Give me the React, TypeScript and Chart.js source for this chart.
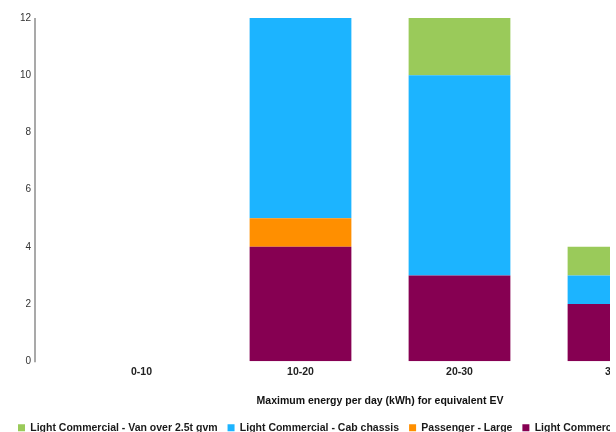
import React, { useEffect, useRef } from "react";
import { Chart, registerables } from "chart.js";

Chart.register(...registerables);

const categories = ["0-10", "10-20", "20-30", "30-40"];
const nameUte = "Light Commercial - Ute";
const namePassengerLarge = "Passenger - Large";
const nameCabChassis = "Light Commercial - Cab chassis";
const nameVanOver = "Light Commercial - Van over 2.5t gvm";
const uteValues = [0, 4, 3, 2];
const passengerLargeValues = [0, 1, 0, 0];
const cabChassisValues = [0, 7, 7, 1];
const vanOverValues = [0, 0, 2, 1];
const yMax = 12;
const yStep = 2;
const xTitle = "Maximum energy per day (kWh) for equivalent EV";

const FONT = "'Liberation Sans', Arial, Helvetica, sans-serif";
const CANVAS_W = 760;
const CANVAS_H = 443;
const VISIBLE_W = 610;

const yLinePlugin = {
  id: "yLine",
  afterDraw(chart: any) {
    const { ctx, chartArea } = chart;
    const x = chart.scales.y.right - 27;
    ctx.save();
    ctx.strokeStyle = "#a9a9a9";
    ctx.lineWidth = 2;
    ctx.beginPath();
    ctx.moveTo(x, chartArea.top);
    ctx.lineTo(x, chartArea.bottom + 1);
    ctx.stroke();
    ctx.restore();
  },
};

export default function App() {
  const ref = useRef<HTMLCanvasElement | null>(null);
  useEffect(() => {
    if (!ref.current) return;
    const chart = new Chart(ref.current, {
      type: "bar",
      data: {
        labels: categories,
        datasets: [
          { label: nameUte, data: uteValues, backgroundColor: "#860052" },
          { label: namePassengerLarge, data: passengerLargeValues, backgroundColor: "#ff8f00" },
          { label: nameCabChassis, data: cabChassisValues, backgroundColor: "#1cb4ff" },
          { label: nameVanOver, data: vanOverValues, backgroundColor: "#9aca5a" },
        ],
      },
      plugins: [yLinePlugin],
      options: {
        animation: false,
        responsive: false,
        maintainAspectRatio: false,
        devicePixelRatio: 1,
        layout: { padding: { top: 18, left: 8, right: 0, bottom: 0 } },
        datasets: { bar: { categoryPercentage: 0.8, barPercentage: 0.8 } } as any,
        plugins: {
          tooltip: { enabled: false },
          legend: {
            position: "bottom",
            align: "start",
            reverse: true,
            labels: {
              boxWidth: 7,
              boxHeight: 7,
              padding: 10,
              color: "#1a1a1a",
              font: { family: FONT, size: 10.5, weight: "bold" },
            },
          },
        },
        scales: {
          x: {
            stacked: true,
            grid: { display: false, drawTicks: false },
            border: { display: false },
            ticks: {
              padding: 5,
              maxRotation: 0,
              color: "#222",
              font: { family: FONT, size: 10.5, weight: "bold" },
            },
            title: {
              display: true,
              text: xTitle,
              color: "#111",
              padding: { top: 11, bottom: 5 },
              font: { family: FONT, size: 10.5, weight: "bold" },
            },
          },
          y: {
            stacked: true,
            min: 0,
            max: yMax,
            grid: { display: false, drawTicks: false },
            border: { display: false },
            ticks: {
              stepSize: yStep,
              padding: 31,
              color: "#333",
              font: { family: FONT, size: 10 },
            },
            afterFit(scale: any) {
              scale.width = 54;
              scale.paddingTop = 0;
              scale.paddingBottom = 0;
            },
          },
          y2: {
            position: "right",
            display: true,
            grid: { display: false, drawTicks: false },
            border: { display: false },
            ticks: { display: false },
            afterFit(scale: any) {
              scale.width = CANVAS_W - 698;
            },
          },
        },
      },
    });
    return () => chart.destroy();
  }, []);
  return (
    <div style={{ position: "fixed", left: 0, top: 0, width: VISIBLE_W, height: CANVAS_H, overflow: "hidden", background: "#fff" }}>
      <canvas ref={ref} width={CANVAS_W} height={CANVAS_H} style={{ width: CANVAS_W, height: CANVAS_H, display: "block" }} />
    </div>
  );
}
